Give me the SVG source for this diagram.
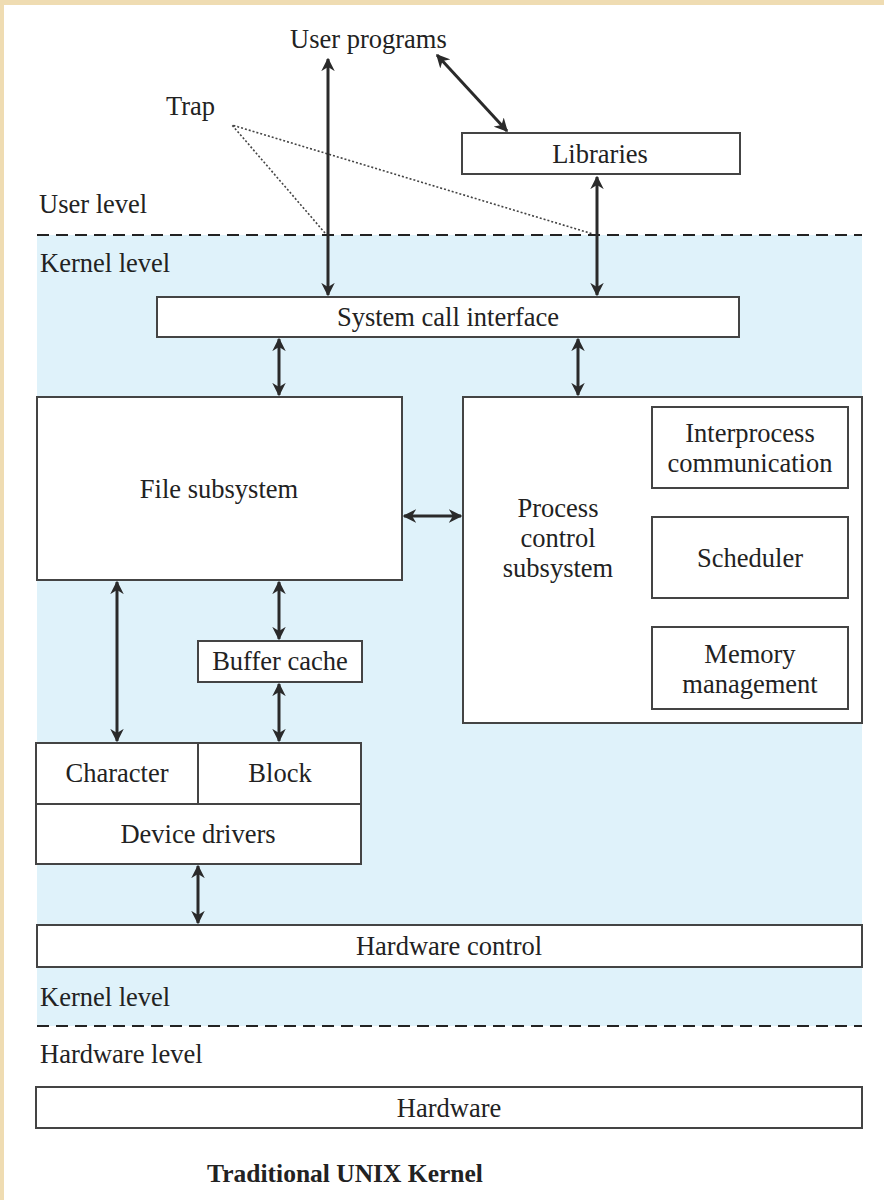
<svg xmlns="http://www.w3.org/2000/svg" width="884" height="1200" viewBox="0 0 884 1200">
<defs>
<style>
.t{font-family:"Liberation Serif","Times New Roman",serif;font-size:26.5px;fill:#222}
.tm{text-anchor:middle}
.b{fill:#fff;stroke:#444;stroke-width:2}
.c{stroke:#2a2a2a;stroke-width:3;fill:none}
.d{stroke:#222;stroke-width:2;stroke-dasharray:12 7;fill:none}
.dot{stroke:#444;stroke-width:1.6;stroke-dasharray:2 2;fill:none}
</style>
<marker id="a" viewBox="0 0 10 10" refX="9" refY="5" markerWidth="4.5" markerHeight="4.5" orient="auto-start-reverse" markerUnits="strokeWidth">
<path d="M0,0 L10,5 L0,10 L3,5 z" fill="#2a2a2a"/>
</marker>
</defs>
<rect x="0" y="0" width="884" height="1200" fill="#fff"/>
<rect x="0" y="0" width="884" height="5" fill="#efdcb2"/>
<rect x="0" y="0" width="4" height="1200" fill="#efdcb2"/>
<rect x="37" y="235" width="825" height="791" fill="#dff2fa"/>
<line class="d" x1="37" y1="235" x2="862" y2="235"/>
<line class="d" x1="37" y1="1026" x2="862" y2="1026"/>

<text class="t" x="290" y="48">User programs</text>
<text class="t" x="166" y="115">Trap</text>
<text class="t" x="39" y="213">User level</text>
<text class="t" x="40" y="272">Kernel level</text>
<text class="t" x="40" y="1006">Kernel level</text>
<text class="t" x="40" y="1063">Hardware level</text>

<g id="connectors">
<polyline class="dot" points="325,233 232,125 593,234"/>
<line class="c" x1="328" y1="59" x2="328" y2="295" marker-start="url(#a)" marker-end="url(#a)"/>
<line class="c" x1="437" y1="55" x2="507" y2="131" marker-start="url(#a)" marker-end="url(#a)"/>
<line class="c" x1="597" y1="177" x2="597" y2="295" marker-start="url(#a)" marker-end="url(#a)"/>
<line class="c" x1="279" y1="339" x2="279" y2="395" marker-start="url(#a)" marker-end="url(#a)"/>
<line class="c" x1="578" y1="339" x2="578" y2="395" marker-start="url(#a)" marker-end="url(#a)"/>
<line class="c" x1="404" y1="516" x2="461" y2="516" marker-start="url(#a)" marker-end="url(#a)"/>
<line class="c" x1="117" y1="582" x2="117" y2="741" marker-start="url(#a)" marker-end="url(#a)"/>
<line class="c" x1="279" y1="582" x2="279" y2="639" marker-start="url(#a)" marker-end="url(#a)"/>
<line class="c" x1="279" y1="684" x2="279" y2="741" marker-start="url(#a)" marker-end="url(#a)"/>
<line class="c" x1="198" y1="866" x2="198" y2="923" marker-start="url(#a)" marker-end="url(#a)"/>
</g>

<g id="libraries">
<rect class="b" x="462" y="133" width="278" height="41"/>
<text class="t tm" x="600" y="163">Libraries</text>
</g>
<g id="syscall">
<rect class="b" x="157" y="297" width="582" height="40"/>
<text class="t tm" x="448" y="326">System call interface</text>
</g>
<g id="file">
<rect class="b" x="37" y="397" width="365" height="183"/>
<text class="t tm" x="219" y="498">File subsystem</text>
</g>
<g id="process">
<rect class="b" x="463" y="397" width="399" height="326"/>
<text class="t tm" x="558" y="517">Process</text>
<text class="t tm" x="558" y="547">control</text>
<text class="t tm" x="558" y="577">subsystem</text>
</g>
<g id="ipc">
<rect class="b" x="652" y="407" width="196" height="81"/>
<text class="t tm" x="750" y="442">Interprocess</text>
<text class="t tm" x="750" y="472">communication</text>
</g>
<g id="scheduler">
<rect class="b" x="652" y="517" width="196" height="81"/>
<text class="t tm" x="750" y="567">Scheduler</text>
</g>
<g id="memory">
<rect class="b" x="652" y="627" width="196" height="82"/>
<text class="t tm" x="750" y="663">Memory</text>
<text class="t tm" x="750" y="693">management</text>
</g>
<g id="buffer">
<rect class="b" x="198" y="641" width="164" height="41"/>
<text class="t tm" x="280" y="670">Buffer cache</text>
</g>
<g id="devices">
<rect class="b" x="36" y="743" width="325" height="121"/>
<line stroke="#444" stroke-width="2" x1="36" y1="804" x2="361" y2="804"/>
<line stroke="#444" stroke-width="2" x1="198" y1="743" x2="198" y2="804"/>
<text class="t tm" x="117" y="782">Character</text>
<text class="t tm" x="280" y="782">Block</text>
<text class="t tm" x="198" y="843">Device drivers</text>
</g>
<g id="hwcontrol">
<rect class="b" x="37" y="925" width="825" height="42"/>
<text class="t tm" x="449" y="955">Hardware control</text>
</g>
<g id="hardware">
<rect class="b" x="36" y="1087" width="826" height="41"/>
<text class="t tm" x="449" y="1117">Hardware</text>
</g>
<text class="t tm" x="345" y="1182" style="font-weight:bold;font-size:25.5px">Traditional UNIX Kernel</text>
</svg>
